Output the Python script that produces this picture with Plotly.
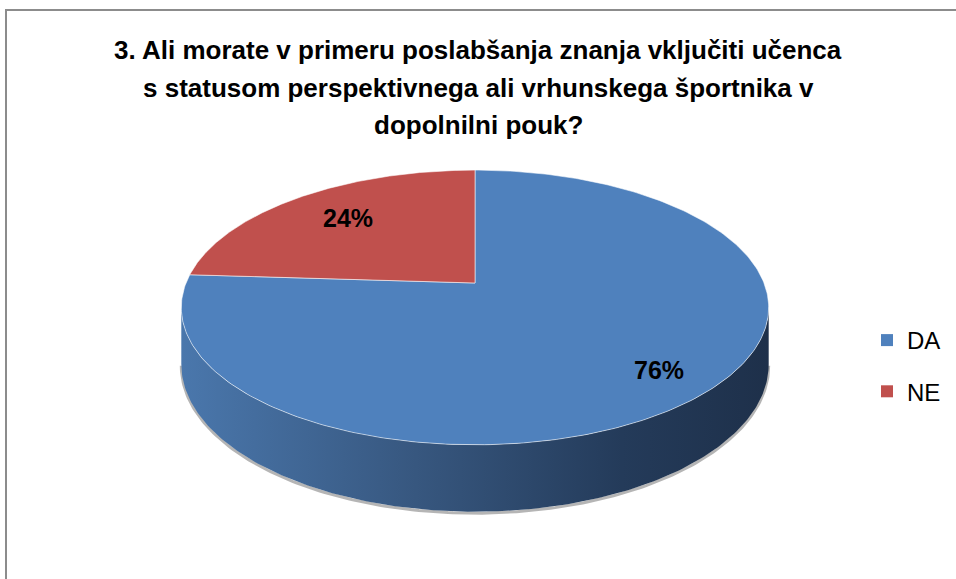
import numpy as np
import plotly.graph_objects as go

# ---- data ----
labels = ["DA", "NE"]
values = [76, 24]
colors = ["#4F81BD", "#C0504D"]
title_lines = [
    "3. Ali morate v primeru poslabšanja znanja vključiti učenca",
    "s statusom perspektivnega ali vrhunskega športnika v",
    "dopolnilni pouk?",
]

# ---- geometry / style ----
W, H = 956, 579
CX, CY = 475, 283          # pie centre (pixel space)
A, B, PERSP = 289, 133, 0.178
DEPTH = 55
LABEL_R = [0.83, 0.70]
TITLE_Y = [50, 88, 125]
FONT = "Liberation Sans Narrow, Arial Narrow, Liberation Sans, Arial, sans-serif"


def proj(theta, r=1.0, drop=0.0):
    w = 1 + PERSP * r * np.cos(theta)
    x = CX + A * r * np.sin(theta) / w
    y = CY - B * r * np.cos(theta) / w + drop / w
    return x, y


total = float(sum(values))
fracs = [v / total for v in values]
starts = np.concatenate([[0.0], np.cumsum(fracs)[:-1]]) * 2 * np.pi
ends = np.cumsum(fracs) * 2 * np.pi

fig = go.Figure()

# side wall (visible front part)
th_vis0 = np.arccos(-PERSP)
th_vis1 = 2 * np.pi - th_vis0
for i in range(len(values)):
    a0, a1 = max(starts[i], th_vis0), min(ends[i], th_vis1)
    if a1 <= a0:
        continue
    t = np.linspace(a0, a1, 200)
    xt, yt = proj(t)
    xb, yb = proj(t, drop=DEPTH)
    fig.add_trace(go.Scatter(x=xb, y=yb + 1.5, mode="lines",
                             line=dict(color="rgba(120,120,120,0.55)", width=3),
                             hoverinfo="skip", showlegend=False))
    xs = np.concatenate([xt, xb[::-1]])
    ys = np.concatenate([yt, yb[::-1]])
    fig.add_trace(go.Scatter(
        x=xs, y=ys, mode="lines", fill="toself",
        line=dict(width=0, color="rgba(0,0,0,0)"),
        fillgradient=dict(type="horizontal",
                          colorscale=[[0, "#4a77ac"], [0.4, "#37577f"],
                                      [0.75, "#243b5a"], [1, "#1e304a"]]),
        hoverinfo="skip", showlegend=False))

# top faces
for i in range(len(values)):
    t = np.linspace(starts[i], ends[i], 300)
    xa, ya = proj(t)
    xs = np.concatenate([[CX], xa, [CX]])
    ys = np.concatenate([[CY], ya, [CY]])
    fig.add_trace(go.Scatter(
        x=xs, y=ys, mode="lines", fill="toself", fillcolor=colors[i],
        line=dict(color="rgba(255,255,255,0.55)", width=1),
        hoverinfo="skip", showlegend=False))

# data labels
for i in range(len(values)):
    mid = (starts[i] + ends[i]) / 2
    lx, ly = proj(np.array([mid]), r=LABEL_R[i])
    fig.add_trace(go.Scatter(
        x=lx, y=ly, mode="text", text=[f"{values[i]}%"],
        textfont=dict(family=FONT, size=25, color="#000000", weight="bold"),
        hoverinfo="skip", showlegend=False))

# legend entries
for i in range(len(values)):
    fig.add_trace(go.Scatter(
        x=[None], y=[None], mode="markers", name=labels[i],
        legendgroup=labels[i],
        marker=dict(symbol="square", size=12, color=colors[i])))

annotations = [
    dict(text=line, x=0.5, y=1 - yy / H, xref="paper", yref="paper",
         xanchor="center", yanchor="middle", showarrow=False,
         font=dict(family=FONT, size=26, color="#000000", weight="bold"))
    for line, yy in zip(title_lines, TITLE_Y)
]

fig.update_layout(
    width=W, height=H,
    margin=dict(l=0, r=0, t=0, b=0),
    paper_bgcolor="white", plot_bgcolor="white",
    xaxis=dict(range=[0, W], visible=False, fixedrange=True),
    yaxis=dict(range=[H, 0], visible=False, fixedrange=True),
    annotations=annotations,
    legend=dict(x=867 / W, y=1 - 318 / H, xanchor="left", yanchor="top",
                font=dict(family=FONT, size=24, color="#000000"),
                tracegroupgap=17, bgcolor="rgba(0,0,0,0)"),
    shapes=[
        dict(type="line", xref="paper", yref="paper", x0=5 / W, x1=1, y0=1 - 10 / H, y1=1 - 10 / H,
             line=dict(color="#8c8c8c", width=2)),
        dict(type="line", xref="paper", yref="paper", x0=6 / W, x1=6 / W, y0=0, y1=1 - 10 / H,
             line=dict(color="#8c8c8c", width=2)),
    ],
)

fig.write_html("out.html", config={"displayModeBar": False},
               post_script="document.body.style.margin='0';")
